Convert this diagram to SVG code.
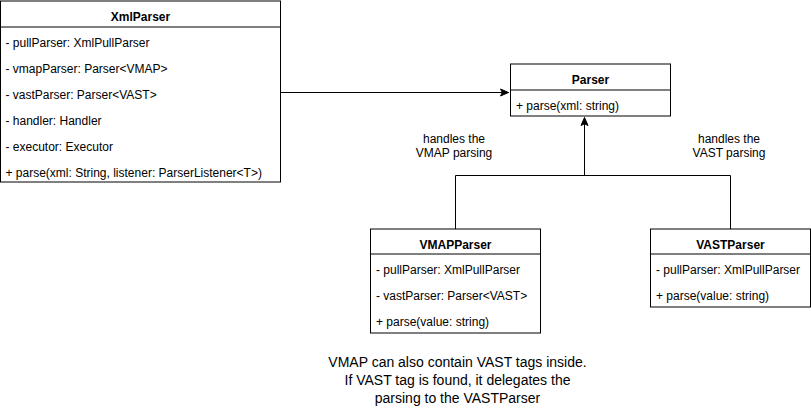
<svg xmlns="http://www.w3.org/2000/svg" width="811" height="410" viewBox="0 0 811 410">
<style>
  .box{fill:#ffffff;stroke:#000000;stroke-width:1}
  .sep{stroke:#000000;stroke-width:1;fill:none}
  .title{font-family:"Liberation Sans",Arial,Helvetica,sans-serif;font-size:12px;font-weight:bold;fill:#000000;text-anchor:middle}
  .item{font-family:"Liberation Sans",Arial,Helvetica,sans-serif;font-size:12px;fill:#000000}
  .label{font-family:"Liberation Sans",Arial,Helvetica,sans-serif;font-size:12px;fill:#000000;text-anchor:middle}
  .note{font-family:"Liberation Sans",Arial,Helvetica,sans-serif;font-size:14px;fill:#000000;text-anchor:middle}
  .edge{stroke:#000000;stroke-width:1;fill:none}
</style>
<defs>
  <marker id="arrow" markerUnits="userSpaceOnUse" markerWidth="10" markerHeight="10" viewBox="0 0 10 10" refX="9" refY="5" orient="auto">
    <path d="M1,1.5 L9,5 L1,8.5 L2.8,5 Z" fill="#000000" stroke="#000000" stroke-width="1"/>
  </marker>
</defs>
<rect width="811" height="410" fill="#ffffff"/>

<g id="connectors">
  <path class="edge" d="M281,92.5 L508.5,92.5" marker-end="url(#arrow)"/>
  <path class="edge" d="M455.5,229 L455.5,175.5 L730.5,175.5 L730.5,229"/>
  <path class="edge" d="M584.5,175.5 L584.5,117.5" marker-end="url(#arrow)"/>
</g>

<g id="XmlParser">
  <rect class="box" x="0.5" y="1" width="280" height="181"/>
  <line class="sep" x1="0.5" y1="27" x2="280.5" y2="27"/>
  <text class="title" x="140.5" y="20.5">XmlParser</text>
  <text class="item" x="5.5" y="47">- pullParser: XmlPullParser</text>
  <text class="item" x="5.5" y="73">- vmapParser: Parser&lt;VMAP&gt;</text>
  <text class="item" x="5.5" y="99">- vastParser: Parser&lt;VAST&gt;</text>
  <text class="item" x="5.5" y="125">- handler: Handler</text>
  <text class="item" x="5.5" y="151">- executor: Executor</text>
  <text class="item" x="5.5" y="177">+ parse(xml: String, listener: ParserListener&lt;T&gt;)</text>
</g>

<g id="Parser">
  <rect class="box" x="510.5" y="64" width="160" height="52"/>
  <line class="sep" x1="510.5" y1="90" x2="670.5" y2="90"/>
  <text class="title" x="590.5" y="83.5">Parser</text>
  <text class="item" x="516" y="109.5">+ parse(xml: string)</text>
</g>

<g id="VMAPParser">
  <rect class="box" x="370.5" y="229" width="170" height="104"/>
  <line class="sep" x1="370.5" y1="254" x2="540.5" y2="254"/>
  <text class="title" x="455.5" y="248.5">VMAPParser</text>
  <text class="item" x="376" y="273.5">- pullParser: XmlPullParser</text>
  <text class="item" x="376" y="299.5">- vastParser: Parser&lt;VAST&gt;</text>
  <text class="item" x="376" y="325.5">+ parse(value: string)</text>
</g>

<g id="VASTParser">
  <rect class="box" x="650.5" y="229" width="160" height="78"/>
  <line class="sep" x1="650.5" y1="254" x2="810.5" y2="254"/>
  <text class="title" x="730.5" y="248.5">VASTParser</text>
  <text class="item" x="656" y="273.5">- pullParser: XmlPullParser</text>
  <text class="item" x="656" y="299.5">+ parse(value: string)</text>
</g>

<g id="labels">
  <text class="label" x="454" y="142.5">handles the</text>
  <text class="label" x="454" y="156.5">VMAP parsing</text>
  <text class="label" x="729" y="142.5">handles the</text>
  <text class="label" x="729" y="156.5">VAST parsing</text>
</g>

<g id="note">
  <text class="note" x="457.5" y="366.5">VMAP can also contain VAST tags inside.</text>
  <text class="note" x="457.5" y="384.5">If VAST tag is found, it delegates the</text>
  <text class="note" x="457.5" y="402.5">parsing to the VASTParser</text>
</g>
</svg>
